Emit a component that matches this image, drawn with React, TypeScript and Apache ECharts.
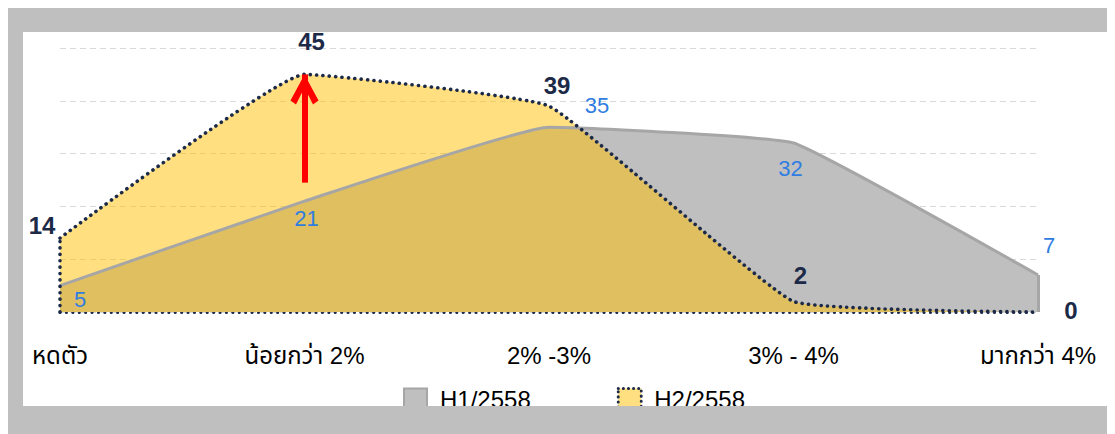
import React, { useEffect, useRef } from "react";
import * as echarts from "echarts";

// ---- data ----
const categories = ["หดตัว", "น้อยกว่า 2%", "2% -3%", "3% - 4%", "มากกว่า 4%"];
const seriesNames = ["H1/2558", "H2/2558"];
const h1Values = [5, 21, 35, 32, 7];
const h2Values = [14, 45, 39, 2, 0];
const yMin = 0;
const yMax = 50;
const yInterval = 10;
// red annotation arrow (category index, from value, to value)
const arrowCategoryIndex = 1;
const arrowFromValue = 24.5;
const arrowToValue = 45;

const FONT = "Arial, 'Liberation Sans', Tahoma, 'Noto Sans Thai', sans-serif";
const NAVY = "#1c2a48";
const BLUE = "#2f7de1";
const DOTTED: number[] = [0.1, 6.3];

export default function App() {
  const ref = useRef<HTMLDivElement>(null);

  useEffect(() => {
    document.documentElement.style.overflow = "hidden";
    if (!ref.current) return;
    const chart = echarts.init(ref.current, undefined, { renderer: "svg" });

    const h1LabelOffsets = [[20, 30], [2, 34], [48, -5], [-3, 42], [11, -13]];
    const h2LabelOffsets = [[-18, 5], [7, -15], [8, -3], [7, -8], [33, 16]];

    const chevron =
      "path://M14,-30 L14.01,-30 Z M14,0 L28,26 L22.5,30 L14,13 L5.5,30 L0,26 Z";

    const option: any = {
      animation: false,
      backgroundColor: "#bfbfbf",
      graphic: [
        {
          type: "rect",
          z: -100,
          silent: true,
          shape: { x: 15, y: 24, width: 1086, height: 374 },
          style: { fill: "#ffffff" },
        },
        {
          type: "rect",
          z: 1000,
          zlevel: 0,
          silent: true,
          shape: { x: 0, y: 398, width: 1107, height: 30 },
          style: { fill: "#bfbfbf" },
        },
      ],
      grid: { left: 52, right: 77, top: 40, bottom: 122, containLabel: false },
      legend: {
        left: 395,
        top: 379,
        padding: 0,
        itemWidth: 23,
        itemHeight: 22,
        itemGap: 86,
        selectedMode: false,
        textStyle: { fontSize: 24, color: "#000", fontFamily: FONT, padding: [0, 0, 0, 8] },
        data: [
          {
            name: seriesNames[0],
            icon: "rect",
            itemStyle: { color: "#bfbfbf", borderColor: "#a6a6a6", borderWidth: 2 },
          },
          {
            name: seriesNames[1],
            icon: "rect",
            itemStyle: {
              color: "rgba(255,192,0,0.5)",
              borderColor: NAVY,
              borderWidth: 3,
              borderType: [0.1, 5],
              borderCap: "round",
            },
          },
        ],
      },
      xAxis: {
        type: "category",
        data: categories,
        boundaryGap: false,
        axisTick: { show: false },
        axisLine: {
          show: true,
          lineStyle: { color: NAVY, width: 3, type: DOTTED, cap: "round" },
        },
        axisLabel: { color: "#000", fontSize: 24, fontFamily: FONT, margin: 31 },
      },
      yAxis: {
        type: "value",
        min: yMin,
        max: yMax,
        interval: yInterval,
        axisLabel: { show: false },
        axisLine: { show: false },
        axisTick: { show: false },
        splitLine: { lineStyle: { color: "#d9d9d9", type: [6, 4], width: 1 } },
      },
      series: [
        {
          name: seriesNames[0],
          type: "line",
          smooth: 0.1,
          symbol: "circle",
          symbolSize: 1,
          itemStyle: { color: "rgba(0,0,0,0)" },
          lineStyle: { color: "#a6a6a6", width: 3 },
          areaStyle: { color: "#bfbfbf", opacity: 1 },
          label: { show: true, position: "top", color: BLUE, fontSize: 22, fontFamily: FONT },
          data: h1Values.map((v, i) => ({ value: v, label: { offset: h1LabelOffsets[i] } })),
          markLine: {
            silent: true,
            symbol: "none",
            label: { show: false },
            lineStyle: { color: "#a6a6a6", width: 3, type: "solid" },
            data: [
              [
                { coord: [categories[categories.length - 1], 0] },
                { coord: [categories[categories.length - 1], h1Values[h1Values.length - 1]] },
              ],
            ],
          },
        },
        {
          name: seriesNames[1],
          type: "line",
          smooth: 0.1,
          symbol: "circle",
          symbolSize: 1,
          itemStyle: { color: "rgba(0,0,0,0)" },
          lineStyle: { color: NAVY, width: 3.6, type: DOTTED, cap: "round" },
          areaStyle: { color: "#ffc000", opacity: 0.5 },
          label: {
            show: true,
            position: "top",
            color: NAVY,
            fontSize: 24,
            fontWeight: "bold",
            fontFamily: FONT,
          },
          data: h2Values.map((v, i) => ({ value: v, label: { offset: h2LabelOffsets[i] } })),
          markLine: {
            silent: true,
            symbol: "none",
            label: { show: false },
            data: [
              [
                {
                  coord: [categories[0], 0],
                  lineStyle: { color: NAVY, width: 3.6, type: DOTTED, cap: "round" },
                },
                { coord: [categories[0], h2Values[0]] },
              ],
              [
                {
                  coord: [categories[arrowCategoryIndex], arrowFromValue],
                  symbol: "none",
                  lineStyle: { color: "#ff0000", width: 6, type: "solid", cap: "butt" },
                },
                {
                  coord: [categories[arrowCategoryIndex], arrowToValue],
                  symbol: chevron,
                  symbolSize: [28, 60],
                  itemStyle: { color: "#ff0000" },
                },
              ],
            ],
          },
        },
      ],
    };

    chart.setOption(option);
    return () => chart.dispose();
  }, []);

  return <div ref={ref} style={{ width: 1107, height: 426 }} />;
}
